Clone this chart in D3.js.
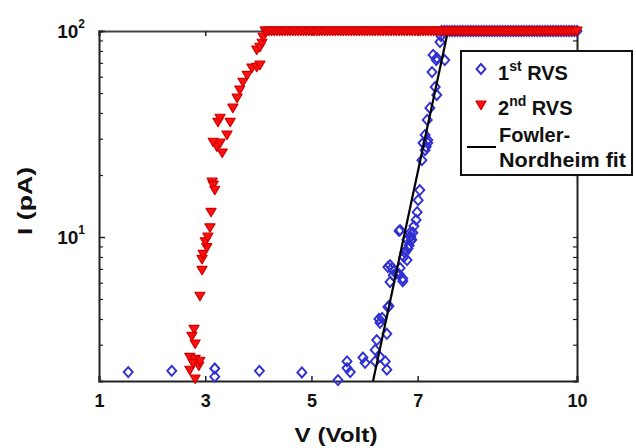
<!DOCTYPE html>
<html>
<head>
<meta charset="utf-8">
<script src="https://cdn.jsdelivr.net/npm/d3@7/dist/d3.min.js"></script>
<style>
  html, body { margin: 0; padding: 0; background: #fff; }
  svg { display: block; font-family: "Liberation Sans", Arial, Helvetica, sans-serif; font-weight: bold; }
</style>
</head>
<body>
<svg id="chart" width="636" height="448"></svg>
<script>
// 1st RVS: rising part of the sweep (V in volts, I in pA)
const rvs1V = [1.55, 2.37, 3.18, 3.18, 4.02, 4.82, 5.50, 5.67, 5.67, 5.73, 5.97, 6.01, 6.20, 6.29, 6.39, 6.42,
  6.20, 6.23, 6.42, 6.29, 6.33, 6.44, 6.46, 6.27, 6.48, 6.54, 6.61, 6.72, 6.52, 6.48, 6.67, 6.80, 6.44, 6.55,
  6.65, 6.72, 6.74, 6.78, 6.87, 6.91, 6.93, 6.65, 6.87, 6.84, 6.67, 6.86, 6.89, 6.80, 6.82, 6.76, 6.97, 6.99,
  7.01, 7.04, 7.08, 7.14, 7.10, 7.19, 7.14, 7.19, 7.16, 7.18, 7.23, 7.36, 7.33, 7.27, 7.29, 7.36, 7.51, 7.35,
  7.42, 7.44];
const rvs1I = [2.21, 2.24, 2.30, 2.10, 2.24, 2.20, 2.02, 2.49, 2.31, 2.21, 2.60, 2.45, 2.49, 2.62, 2.49, 2.27,
  2.83, 3.16, 3.39, 3.83, 4.05, 4.57, 4.63, 4.00, 6.05, 6.53, 6.67, 6.29, 7.07, 7.30, 7.07, 7.73, 7.15, 6.83,
  6.60, 6.10, 8.00, 8.56, 9.60, 10.5, 11.3, 10.7, 10.0, 9.10, 10.8, 10.5, 9.70, 9.70, 8.80, 8.40, 12.1, 13.2,
  15.1, 16.9, 23.6, 26.4, 28.6, 28.6, 31.3, 29.6, 27.4, 37.0, 42.3, 48.9, 53.5, 63.2, 76.5, 74.0, 72.3, 72.3,
  88.4, 94.6];
// 1st RVS: saturated at the 100 pA compliance
const rvs1SatV = [7.45, 7.5, 7.55, 7.6, 7.65, 7.7, 7.75, 7.8, 7.85, 7.9, 7.95, 8.0, 8.05, 8.1, 8.15, 8.2,
  8.25, 8.3, 8.35, 8.4, 8.45, 8.5, 8.55, 8.6, 8.65, 8.7, 8.75, 8.8, 8.85, 8.9, 8.95, 9.0, 9.05, 9.1, 9.15,
  9.2, 9.25, 9.3, 9.35, 9.4, 9.45, 9.5, 9.55, 9.6, 9.65, 9.7, 9.75, 9.8, 9.85, 9.9, 9.95, 10.0];
const rvs1SatI = 100;

// 2nd RVS: rising part of the sweep
const rvs2V = [2.81, 2.71, 2.88, 2.71, 2.81, 2.90, 2.77, 2.81, 2.75, 2.79, 2.90, 2.94, 2.94, 2.96, 3.03, 3.00,
  3.05, 3.09, 3.11, 3.13, 3.15, 3.18, 3.22, 3.28, 3.32, 3.15, 3.24, 3.28, 3.41, 3.47, 3.52, 3.60, 3.65, 3.71,
  3.79, 3.88, 3.97, 4.03, 3.97, 4.03, 4.07, 4.09, 4.13];
const rvs2I = [2.05, 2.26, 2.37, 2.61, 2.55, 2.50, 2.44, 3.03, 3.30, 3.57, 5.17, 6.90, 7.80, 8.26, 8.90, 9.50,
  10.0, 11.1, 13.2, 18.5, 17.9, 16.9, 27.4, 28.6, 25.6, 28.9, 36.1, 37.8, 31.3, 36.1, 42.3, 47.3, 51.8, 56.5,
  61.1, 66.2, 66.8, 68.4, 80.9, 83.6, 87.4, 93.5, 100];
// 2nd RVS: saturated at the 100 pA compliance
const rvs2SatV = [4.15, 4.2, 4.25, 4.3, 4.35, 4.4, 4.45, 4.5, 4.55, 4.6, 4.65, 4.7, 4.75, 4.8, 4.85, 4.9,
  4.95, 5.0, 5.05, 5.1, 5.15, 5.2, 5.25, 5.3, 5.35, 5.4, 5.45, 5.5, 5.55, 5.6, 5.65, 5.7, 5.75, 5.8, 5.85,
  5.9, 5.95, 6.0, 6.05, 6.1, 6.15, 6.2, 6.25, 6.3, 6.35, 6.4, 6.45, 6.5, 6.55, 6.6, 6.65, 6.7, 6.75, 6.8,
  6.85, 6.9, 6.95, 7.0, 7.05, 7.1, 7.15, 7.2, 7.25, 7.3, 7.35, 7.4, 7.45, 7.5, 7.55, 7.6, 7.65, 7.7, 7.75,
  7.8, 7.85, 7.9, 7.95, 8.0, 8.05, 8.1, 8.15, 8.2, 8.25, 8.3, 8.35, 8.4, 8.45, 8.5, 8.55, 8.6, 8.65, 8.7,
  8.75, 8.8, 8.85, 8.9, 8.95, 9.0, 9.05, 9.1, 9.15, 9.2, 9.25, 9.3, 9.35, 9.4, 9.45, 9.5, 9.55, 9.6, 9.65,
  9.7, 9.75, 9.8, 9.85, 9.9, 9.95, 10.0];
const rvs2SatI = 100;

// Fowler-Nordheim fit endpoints
const fitV = [6.16, 7.57];
const fitI = [2, 100];

// Axis ticks
const xTicks = [1, 3, 5, 7, 10];
const yMajor = [10, 100];
const yMajorExp = ["1", "2"];
const yMinor = [3, 4, 5, 6, 7, 8, 9, 20, 30, 40, 50, 60, 70, 80, 90];

const legendLabels = [["1", "st", " RVS"], ["2", "nd", " RVS"], ["Fowler-", "Nordheim fit"]];

const blue = "#2f2fd2";
const red = "#ff1010";

const svg = d3.select("#chart");
const x = d3.scaleLinear().domain([1, 10]).range([99, 577]);
const y = d3.scaleLog().domain([2, 100]).range([381, 31]);

const axisColor = "#222";

// Bottom axis: inward ticks, bold labels
const gx = svg.append("g").attr("transform", `translate(0,${y(2)})`)
  .call(d3.axisBottom(x).tickValues(xTicks).tickSize(-5).tickPadding(13).tickFormat(d3.format("d")));
gx.select(".domain").attr("stroke", axisColor).attr("stroke-width", 2);
gx.selectAll(".tick line").attr("stroke", axisColor).attr("stroke-width", 1.5);
gx.selectAll(".tick text").attr("font-size", 18).attr("font-weight", "bold").attr("font-family", "Liberation Sans, Arial, sans-serif").attr("fill", "#111");

// Top axis: ticks only
const gxt = svg.append("g").attr("transform", `translate(0,${y(100)})`)
  .call(d3.axisTop(x).tickValues(xTicks).tickSize(-5).tickFormat(""));
gxt.select(".domain").attr("stroke", "#444").attr("stroke-width", 2);
gxt.selectAll(".tick line").attr("stroke", axisColor).attr("stroke-width", 1.5);

// Left axis: major and minor inward ticks
const gy = svg.append("g").attr("transform", `translate(${x(1)},0)`)
  .call(d3.axisLeft(y).tickValues(yMinor).tickSize(-4).tickFormat(""));
gy.select(".domain").attr("stroke", axisColor).attr("stroke-width", 2);
gy.selectAll(".tick line").attr("stroke", axisColor).attr("stroke-width", 1.2);
const gyM = svg.append("g").attr("transform", `translate(${x(1)},0)`)
  .call(d3.axisLeft(y).tickValues(yMajor).tickSize(-6).tickFormat(""));
gyM.select(".domain").remove();
gyM.selectAll(".tick line").attr("stroke", axisColor).attr("stroke-width", 1.5);

// Right axis
const gr = svg.append("g").attr("transform", `translate(${x(10)},0)`)
  .call(d3.axisRight(y).tickValues(yMinor.concat(yMajor)).tickSize(-4).tickFormat(""));
gr.select(".domain").attr("stroke", axisColor).attr("stroke-width", 2);
gr.selectAll(".tick line").attr("stroke", axisColor).attr("stroke-width", 1.2);

// Y tick labels with power-of-ten exponents
yMajor.forEach((v, i) => {
  const t = svg.append("text")
    .attr("x", 85).attr("y", y(v) + 7)
    .attr("text-anchor", "end")
    .attr("font-size", 19).attr("fill", "#111");
  t.append("tspan").text("10");
  t.append("tspan").attr("dy", -10).attr("font-size", 12).text(yMajorExp[i]);
});

// Axis titles
svg.append("text").attr("x", 336).attr("y", 442).attr("text-anchor", "middle")
  .attr("font-size", 21).attr("fill", "#111")
  .attr("textLength", 83).attr("lengthAdjust", "spacingAndGlyphs")
  .text("V (Volt)");
svg.append("text").attr("transform", "translate(32,201) rotate(-90)").attr("text-anchor", "middle")
  .attr("font-size", 20).attr("fill", "#111")
  .attr("textLength", 68).attr("lengthAdjust", "spacingAndGlyphs")
  .text("I (pA)");

// Marker shapes
const diamond = "M0,-5L4.5,0L0,5L-4.5,0Z";
const triDown = "M-5,-3.8L5,-3.8L0,4.6Z";

const plot = svg.append("g");

// 1st RVS (open blue diamonds)
const rvs1 = rvs1V.map((v, i) => [v, rvs1I[i]]).concat(rvs1SatV.map(v => [v, rvs1SatI]));
plot.selectAll("path.rvs1").data(rvs1).join("path")
  .attr("class", "rvs1")
  .attr("d", diamond)
  .attr("transform", d => `translate(${x(d[0])},${y(d[1])})`)
  .attr("fill", "none").attr("stroke", blue).attr("stroke-width", 1.9);

// Fowler-Nordheim fit line
plot.append("path")
  .datum(fitV.map((v, i) => [v, fitI[i]]))
  .attr("d", d3.line().x(d => x(d[0])).y(d => y(d[1])))
  .attr("stroke", "#000").attr("stroke-width", 2.2).attr("fill", "none");

// 2nd RVS (filled red down-triangles)
const rvs2 = rvs2V.map((v, i) => [v, rvs2I[i]]).concat(rvs2SatV.map(v => [v, rvs2SatI]));
plot.selectAll("path.rvs2").data(rvs2).join("path")
  .attr("class", "rvs2")
  .attr("d", triDown)
  .attr("transform", d => `translate(${x(d[0])},${y(d[1])})`)
  .attr("fill", red).attr("stroke", "#d00000").attr("stroke-width", 1.2).attr("stroke-linejoin", "round");

// Legend
const lg = svg.append("g");
lg.append("rect").attr("x", 461).attr("y", 51).attr("width", 171).attr("height", 124)
  .attr("fill", "#fff").attr("stroke", "#111").attr("stroke-width", 2);
lg.append("path").attr("d", diamond).attr("transform", "translate(481,69)")
  .attr("fill", "none").attr("stroke", blue).attr("stroke-width", 1.9);
lg.append("path").attr("d", triDown).attr("transform", "translate(481,105)")
  .attr("fill", red).attr("stroke", "#d00000").attr("stroke-width", 1.2).attr("stroke-linejoin", "round");
lg.append("line").attr("x1", 467).attr("x2", 496).attr("y1", 147).attr("y2", 147)
  .attr("stroke", "#000").attr("stroke-width", 2);

[80, 115].forEach((by, i) => {
  const t = lg.append("text").attr("x", 498).attr("y", by).attr("font-size", 20).attr("fill", "#111");
  t.append("tspan").text(legendLabels[i][0]);
  t.append("tspan").attr("dy", -9).attr("font-size", 14).text(legendLabels[i][1]);
  t.append("tspan").attr("dy", 9).text(legendLabels[i][2]);
});
lg.append("text").attr("x", 499).attr("y", 142).attr("font-size", 20).attr("fill", "#111").text(legendLabels[2][0]);
lg.append("text").attr("x", 499).attr("y", 167).attr("font-size", 20).attr("fill", "#111")
  .attr("textLength", 127).attr("lengthAdjust", "spacingAndGlyphs").text(legendLabels[2][1]);
</script>
</body>
</html>
